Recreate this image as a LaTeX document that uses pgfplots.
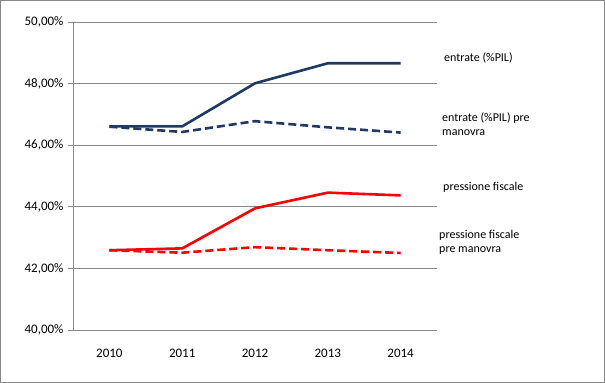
\documentclass[border=0pt]{standalone}
\usepackage{pgfplots}
\pgfplotsset{compat=1.18}
\usepackage{fontspec}
\setmainfont{Carlito}
\definecolor{navy}{HTML}{1F3864}
\definecolor{gridgray}{HTML}{888888}
\begin{document}
\begin{tikzpicture}
\useasboundingbox (-73bp,-53bp) rectangle (532bp,330bp);
\draw[gridgray, line width=0.9bp] (-72.3bp,-52.3bp) rectangle (531.3bp,329.3bp);
\begin{axis}[
  scale only axis,
  width=364bp, height=308bp,
  xmin=-0.5, xmax=4.5,
  ymin=40, ymax=50,
  axis x line*=bottom,
  axis y line*=left,
  axis line style={gridgray, line width=0.8bp, -},
  xtick={0,1,2,3,4},
  xticklabels={2010,2011,2012,2013,2014},
  x tick style={draw=none},
  minor xtick={-0.5,0.5,1.5,2.5,3.5,4.5},
  minor x tick style={gridgray, line width=0.8bp},
  ytick={40,42,44,46,48,50},
  yticklabels={{40,00\%},{42,00\%},{44,00\%},{46,00\%},{48,00\%},{50,00\%}},
  y tick style={gridgray, line width=0.8bp},
  tick align=outside,
  major tick length=5bp,
  minor tick length=5bp,
  ymajorgrids,
  major grid style={gridgray, line width=0.8bp},
  ticklabel style={font=\fontsize{13bp}{15bp}\selectfont, text=black},
  xticklabel style={yshift=-10.5bp},
  yticklabel style={xshift=-1bp},
  clip=false,
]
\addplot[navy, line width=2.6bp] coordinates {(0,46.61) (1,46.61) (2,48.01) (3,48.66) (4,48.66)};
\addplot[navy, line width=2.6bp, dash pattern=on 8bp off 4bp] coordinates {(0,46.60) (1,46.43) (2,46.78) (3,46.58) (4,46.41)};
\addplot[red, line width=2.6bp] coordinates {(0,42.59) (1,42.65) (2,43.95) (3,44.46) (4,44.37)};
\addplot[red, line width=2.6bp, dash pattern=on 8bp off 4bp] coordinates {(0,42.59) (1,42.51) (2,42.69) (3,42.59) (4,42.50)};
\end{axis}
\begin{scope}[every node/.style={anchor=west, align=left, inner sep=0pt, font=\fontsize{12bp}{14bp}\selectfont, text=black}]
\node at (371bp,272bp) {entrate (\%PIL)};
\node at (369bp,206bp) {entrate (\%PIL) pre\\manovra};
\node at (370bp,142.5bp) {pressione fiscale};
\node at (366bp,87.5bp) {pressione fiscale\\pre manovra};
\end{scope}
\end{tikzpicture}
\end{document}
